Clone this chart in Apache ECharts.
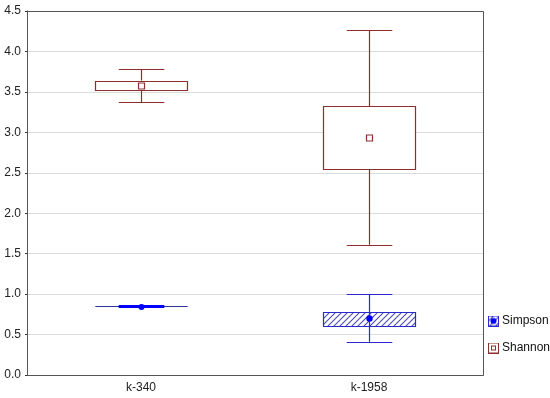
<!DOCTYPE html>
<html><head><meta charset="utf-8">
<script src="https://cdn.jsdelivr.net/npm/echarts@6/dist/echarts.min.js"></script>
<style>html,body{margin:0;padding:0;background:#fff}#c{width:550px;height:398px}</style>
</head><body><div id="c"></div>
<script>
var categories = ['k-340', 'k-1958'];
var yTicks = [0, 0.5, 1.0, 1.5, 2.0, 2.5, 3.0, 3.5, 4.0, 4.5];
// [whiskerLow, boxLow, mean, boxHigh, whiskerHigh]
var simpson = [
  [0.838, 0.840, 0.835, 0.842, 0.844],
  [0.41, 0.61, 0.70, 0.78, 1.00]
];
var shannon = [
  [3.37, 3.52, 3.57, 3.64, 3.78],
  [1.61, 2.55, 2.93, 3.32, 4.26]
];

var RED = '#8b2f2f', BLUE = '#2a2acc';

function hatchCanvas() {
  var c = document.createElement('canvas'); c.width = 6; c.height = 6;
  var g = c.getContext('2d');
  g.fillStyle = '#ffffff'; g.fillRect(0, 0, 6, 6);
  g.strokeStyle = '#4a4ab8'; g.lineWidth = 1.1;
  g.beginPath();
  g.moveTo(0, 6); g.lineTo(6, 0);
  g.moveTo(-3, 3); g.lineTo(3, -3);
  g.moveTo(3, 9); g.lineTo(9, 3);
  g.stroke();
  return c;
}
var hatch = hatchCanvas();

function iconURL(kind) {
  var c = document.createElement('canvas'); c.width = 11; c.height = 11;
  var g = c.getContext('2d');
  if (kind === 'simpson') {
    g.fillStyle = g.createPattern(hatch, 'repeat'); g.fillRect(0, 0, 11, 11);
    g.strokeStyle = BLUE; g.lineWidth = 1; g.strokeRect(0.5, 0.5, 10, 10);
    g.fillStyle = '#0000ff'; g.beginPath(); g.arc(5.5, 5.5, 3, 0, Math.PI * 2); g.fill();
  } else {
    g.fillStyle = '#fff'; g.fillRect(0, 0, 11, 11);
    g.strokeStyle = RED; g.lineWidth = 1; g.strokeRect(0.5, 0.5, 10, 10);
    g.strokeRect(3.5, 3.5, 4, 4);
  }
  return 'image://' + c.toDataURL();
}

function makeRender(kind) {
  return function (params, api) {
    var x = api.value(0);
    var wl = api.value(1), bl = api.value(2), mn = api.value(3), bh = api.value(4), wh = api.value(5);
    var band = api.size([1, 0])[0];
    var bw = band * 0.405, cw = band * 0.2;
    var pWL = api.coord([x, wl]), pBL = api.coord([x, bl]), pM = api.coord([x, mn]),
        pBH = api.coord([x, bh]), pWH = api.coord([x, wh]);
    var cx = Math.round(pM[0]) + 0.5;
    var color = kind === 'simpson' ? BLUE : RED;
    var ls = { stroke: color, lineWidth: 1.2, fill: null };
    var children = [];
    var degenerate = Math.abs(pBL[1] - pBH[1]) < 2;
    if (degenerate) {
      var yy = Math.round(pM[1]) - 0.5;
      children.push({ type: 'line', shape: { x1: cx - bw / 2, y1: yy, x2: cx + bw / 2, y2: yy }, style: { stroke: '#3030a0', lineWidth: 1 } });
      children.push({ type: 'line', shape: { x1: cx - cw / 2, y1: yy, x2: cx + cw / 2, y2: yy }, style: { stroke: '#0000ff', lineWidth: 3 } });
      children.push({ type: 'circle', shape: { cx: cx, cy: Math.round(pM[1]), r: 3 }, style: { fill: '#0000ff' } });
      return { type: 'group', children: children };
    }
    children.push({ type: 'line', shape: { x1: cx, y1: pWH[1], x2: cx, y2: pBH[1] }, style: ls });
    children.push({ type: 'line', shape: { x1: cx, y1: pBL[1], x2: cx, y2: pWL[1] }, style: ls });
    var yh = Math.round(pWH[1]) + 0.5, yl = Math.round(pWL[1]) + 0.5;
    children.push({ type: 'line', shape: { x1: cx - cw / 2, y1: yh, x2: cx + cw / 2, y2: yh }, style: ls });
    children.push({ type: 'line', shape: { x1: cx - cw / 2, y1: yl, x2: cx + cw / 2, y2: yl }, style: ls });
    var top = Math.round(pBH[1]) + 0.5, bot = Math.round(pBL[1]) + 0.5;
    var left = Math.round(cx - bw / 2) + 0.5;
    children.push({
      type: 'rect', shape: { x: left, y: top, width: Math.round(bw), height: bot - top },
      style: { fill: kind === 'simpson' ? { image: hatch, repeat: 'repeat' } : '#fff', stroke: color, lineWidth: 1.2 }
    });
    if (kind === 'simpson') {
      children.push({ type: 'line', shape: { x1: cx, y1: top, x2: cx, y2: bot }, style: ls });
      children.push({ type: 'circle', shape: { cx: cx, cy: pM[1], r: 3.2 }, style: { fill: '#0000ff' } });
    } else {
      var my = Math.round(pM[1]);
      children.push({ type: 'rect', shape: { x: cx - 3, y: my - 3, width: 6, height: 6 }, style: { fill: '#fff', stroke: RED, lineWidth: 1.2 } });
    }
    return { type: 'group', children: children };
  };
}

function toData(arr) {
  return arr.map(function (r, i) { return [i].concat(r); });
}

var chart = echarts.init(document.getElementById('c'), null, { renderer: 'canvas' });
chart.setOption({
  animation: false,
  backgroundColor: '#fff',
  grid: { left: 27, top: 11, right: 67, bottom: 23 },
  legend: {
    orient: 'vertical', left: 488, top: 315, padding: 0, itemGap: 15, itemWidth: 11, itemHeight: 11,
    textStyle: { fontFamily: 'Liberation Sans, Arial', fontSize: 12, color: '#111', padding: [0, 0, 0, -2] },
    data: [
      { name: 'Simpson', icon: iconURL('simpson') },
      { name: 'Shannon', icon: iconURL('shannon') }
    ]
  },
  xAxis: {
    type: 'category', data: categories, boundaryGap: true,
    axisLine: { lineStyle: { color: '#333', width: 1 } },
    axisTick: { alignWithLabel: true, length: 3, lineStyle: { color: '#333' } },
    axisLabel: { fontFamily: 'Liberation Sans, Arial', fontSize: 12, color: '#222', margin: 7 }
  },
  yAxis: {
    type: 'value', min: 0, max: 4.5, interval: 0.5,
    axisLine: { show: true, lineStyle: { color: '#333' } },
    axisTick: { show: true, length: 2, lineStyle: { color: '#333' } },
    splitLine: { lineStyle: { color: '#dcdcdc', width: 1 } },
    axisLabel: {
      fontFamily: 'Liberation Sans, Arial', fontSize: 12, color: '#222', margin: 6,
      formatter: function (v) { return v.toFixed(1); }
    }
  },
  graphic: [{
    type: 'rect', shape: { x: 27.5, y: 11.5, width: 456, height: 364 },
    style: { fill: null, stroke: '#555', lineWidth: 1 }, silent: true, z: 10
  }],
  series: [
    {
      name: 'Simpson', type: 'custom', renderItem: makeRender('simpson'),
      encode: { x: 0, y: [1, 2, 3, 4, 5] }, data: toData(simpson),
      itemStyle: { color: BLUE }, z: 3
    },
    {
      name: 'Shannon', type: 'custom', renderItem: makeRender('shannon'),
      encode: { x: 0, y: [1, 2, 3, 4, 5] }, data: toData(shannon),
      itemStyle: { color: RED }, z: 3
    }
  ]
});
</script></body></html>
